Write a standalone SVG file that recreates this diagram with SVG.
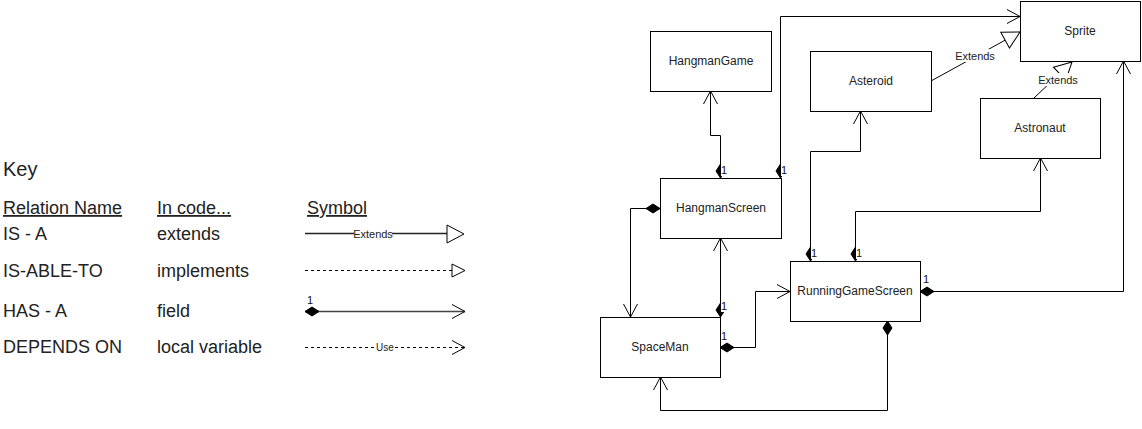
<svg xmlns="http://www.w3.org/2000/svg" width="1142" height="429" viewBox="0 0 1142 429">
<style>
.box{fill:#fff;stroke:#000;stroke-width:1}
.bt{font-family:"Liberation Sans",Arial,sans-serif;font-size:12px;fill:#222;text-anchor:middle}
.ln{fill:none;stroke:#000;stroke-width:1}
.m{font-family:"Liberation Sans",Arial,sans-serif;font-size:11px;fill:#111}
.el{font-family:"Liberation Sans",Arial,sans-serif;font-size:11px;fill:#222;text-anchor:middle}
.kt{font-family:"Liberation Sans",Arial,sans-serif;font-size:18px;fill:#222}
.ku{text-decoration:underline}
.lb{fill:#fff}
</style>
<defs>
<marker id="open" markerUnits="userSpaceOnUse" markerWidth="18" markerHeight="18" viewBox="-15 -9 18 18" refX="0" refY="0" orient="auto" overflow="visible"><path d="M-13,-7 L0,0 L-13,7" fill="none" stroke="#000" stroke-width="1"/></marker>
<marker id="dia" markerUnits="userSpaceOnUse" markerWidth="18" markerHeight="12" viewBox="-2 -6 18 12" refX="0" refY="0" orient="auto" overflow="visible"><path d="M0,0 L7,-4.5 L14,0 L7,4.5Z" fill="#000" stroke="#000" stroke-width="1"/></marker>
<marker id="tri" markerUnits="userSpaceOnUse" markerWidth="22" markerHeight="22" viewBox="-20 -11 22 22" refX="0" refY="0" orient="auto" overflow="visible"><path d="M-17,-9 L0,0 L-17,9Z" fill="#fff" stroke="#000" stroke-width="1"/></marker>
</defs>

<g id="key">
<text x="3" y="176" class="kt" style="font-size:20px">Key</text>
<text x="3" y="214" class="kt ku">Relation Name</text>
<text x="157" y="214" class="kt ku">In code...</text>
<text x="307" y="214" class="kt ku">Symbol</text>
<text x="3" y="240" class="kt">IS - A</text>
<text x="157" y="240" class="kt">extends</text>
<text x="3" y="277" class="kt">IS-ABLE-TO</text>
<text x="157" y="277" class="kt">implements</text>
<text x="3" y="317" class="kt">HAS - A</text>
<text x="157" y="317" class="kt">field</text>
<text x="3" y="353" class="kt">DEPENDS ON</text>
<text x="157" y="353" class="kt">local variable</text>
<g id="key-symbols">
<path d="M305,233.5 H447" stroke="#222" stroke-width="1.6" fill="none"/>
<rect x="354" y="227" width="38" height="13" class="lb"/>
<text x="373" y="237.5" class="el">Extends</text>
<path d="M447,225 L464,234 L447,243Z" fill="#fff" stroke="#000" stroke-width="1"/>
<path d="M305,270.5 H452" stroke="#000" stroke-dasharray="3,3" fill="none"/>
<path d="M452,264 L465,270.5 L452,277Z" fill="#fff" stroke="#000" stroke-width="1"/>
<path d="M305,311.5 H465" stroke="#444" stroke-width="1.5" fill="none" marker-start="url(#dia)" marker-end="url(#open)"/>
<text x="307" y="304" class="m">1</text>
<path d="M305,347.5 H465" stroke="#000" stroke-dasharray="3,3" fill="none" marker-end="url(#open)"/>
<rect x="375" y="341" width="20" height="12" class="lb"/>
<text x="385" y="351" class="el" style="font-size:10px">Use</text>
</g>
</g>

<g id="connectors">
<path class="ln" d="M720.5,178 V135.5 H710.5 V91" marker-start="url(#dia)" marker-end="url(#open)"/>
<path class="ln" d="M780.5,178 V16.5 H1020" marker-start="url(#dia)" marker-end="url(#open)"/>
<path class="ln" d="M931,81 L1020,32" marker-end="url(#tri)"/>
<path class="ln" d="M1034,98 L1072,62" marker-end="url(#tri)"/>
<path class="ln" d="M920,291.5 H1123.5 V61" marker-start="url(#dia)" marker-end="url(#open)"/>
<path class="ln" d="M810.5,261 V151.5 H860.5 V111" marker-start="url(#dia)" marker-end="url(#open)"/>
<path class="ln" d="M855.5,261 V211.5 H1040.5 V158" marker-start="url(#dia)" marker-end="url(#open)"/>
<path class="ln" d="M660,208.5 H630.5 V317" marker-start="url(#dia)" marker-end="url(#open)"/>
<path class="ln" d="M720.5,317 V238" marker-start="url(#dia)" marker-end="url(#open)"/>
<path class="ln" d="M720,347.5 H755.5 V291.5 H790" marker-start="url(#dia)" marker-end="url(#open)"/>
<path class="ln" d="M887.5,321 V410.5 H660.5 V377" marker-start="url(#dia)" marker-end="url(#open)"/>
<g id="edge-labels">
<rect x="955" y="49" width="40" height="13" class="lb"/>
<text x="975" y="59.5" class="el">Extends</text>
<rect x="1038" y="73" width="40" height="13" class="lb"/>
<text x="1058" y="83.5" class="el">Extends</text>
<rect x="721" y="164" width="6" height="12" class="lb"/>
<text x="721" y="174" class="m">1</text>
<rect x="781" y="164" width="6" height="12" class="lb"/>
<text x="781" y="174" class="m">1</text>
<rect x="811" y="247" width="6" height="12" class="lb"/>
<text x="811" y="257" class="m">1</text>
<rect x="856" y="247" width="6" height="12" class="lb"/>
<text x="856" y="257" class="m">1</text>
<rect x="721" y="300" width="6" height="12" class="lb"/>
<text x="721" y="310" class="m">1</text>
<text x="663" y="206" class="m">1</text>
<text x="721" y="340" class="m">1</text>
<text x="923" y="283" class="m">1</text>
<text x="893" y="316" class="m">1</text>
</g>
</g>

<g id="HangmanGame"><rect class="box" x="650.5" y="31.5" width="121" height="60"/><text class="bt" x="711" y="65">HangmanGame</text></g>
<g id="HangmanScreen"><rect class="box" x="660.5" y="178.5" width="121" height="60"/><text class="bt" x="721" y="212">HangmanScreen</text></g>
<g id="Asteroid"><rect class="box" x="810.5" y="51.5" width="121" height="60"/><text class="bt" x="871" y="85">Asteroid</text></g>
<g id="Sprite"><rect class="box" x="1020.5" y="1.5" width="120" height="60"/><text class="bt" x="1080" y="35">Sprite</text></g>
<g id="Astronaut"><rect class="box" x="980.5" y="98.5" width="120" height="60"/><text class="bt" x="1040" y="132">Astronaut</text></g>
<g id="RunningGameScreen"><rect class="box" x="790.5" y="261.5" width="130" height="60"/><text class="bt" x="855" y="295">RunningGameScreen</text></g>
<g id="SpaceMan"><rect class="box" x="600.5" y="317.5" width="120" height="60"/><text class="bt" x="660" y="351">SpaceMan</text></g>
</svg>
